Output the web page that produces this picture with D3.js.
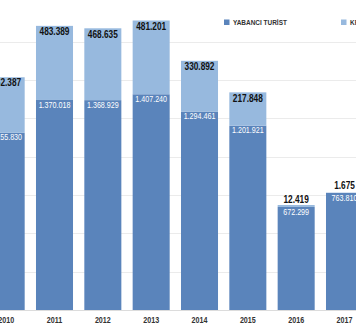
<!DOCTYPE html>
<html>
<head>
<meta charset="utf-8">
<script src="https://cdn.jsdelivr.net/npm/d3@7"></script>
<style>
  html, body { margin: 0; padding: 0; background: #fff; overflow: hidden; }
  svg { display: block; font-family: "Liberation Sans", Arial, sans-serif; }
</style>
</head>
<body>
<svg id="chart" width="356" height="333"></svg>
<script>
// Yearly visitor counts: foreign tourists and cruise passengers
const years = ["2010", "2011", "2012", "2013", "2014", "2015", "2016", "2017"];
const foreignTourists = [1155830, 1370018, 1368929, 1407240, 1294461, 1201921, 672299, 763810];
const cruisePassengers = [362387, 483389, 468635, 481201, 330892, 217848, 12419, 1675];
const seriesNames = ["YABANCI TURİST", "KRUVAZİYER YOLCUSU"];
const gridTicks = [0, 250000, 500000, 750000, 1000000, 1250000, 1500000, 1750000];

const colors = ["#5a84bb", "#97b9de"];
const squeeze = 0.83; // narrow text rendering

const svg = d3.select("#chart");
const fmt = v => d3.format(",")(v).replace(/,/g, ".");

const x = d3.scaleBand()
  .domain(years)
  .range([-18, 368.67])
  .paddingInner(0.234)
  .paddingOuter(0.117);

const y = d3.scaleLinear()
  .domain([0, 2000000])
  .range([310, 3.4]);

// horizontal grid
svg.append("g")
  .selectAll("line")
  .data(gridTicks)
  .join("line")
  .attr("x1", 0).attr("x2", 356)
  .attr("y1", d => Math.round(y(d)) + 0.5)
  .attr("y2", d => Math.round(y(d)) + 0.5)
  .attr("stroke", d => d === 0 ? "#dcdcdc" : "#ebebeb")
  .attr("stroke-width", 1);

const rows = years.map((yr, i) => ({
  year: yr,
  a: foreignTourists[i],
  b: cruisePassengers[i]
}));

const bars = svg.append("g");

// foreign tourists (bottom segment)
bars.selectAll("rect.a")
  .data(rows)
  .join("rect")
  .attr("class", "a")
  .attr("x", d => x(d.year))
  .attr("width", x.bandwidth())
  .attr("y", d => y(d.a))
  .attr("height", d => y(0) - y(d.a))
  .attr("fill", colors[0]);

// cruise passengers (top segment)
bars.selectAll("rect.b")
  .data(rows)
  .join("rect")
  .attr("class", "b")
  .attr("x", d => x(d.year))
  .attr("width", x.bandwidth())
  .attr("y", d => y(d.a + d.b))
  .attr("height", d => y(d.a) - y(d.a + d.b))
  .attr("fill", colors[1]);

function squeezedText(sel) {
  return sel.attr("transform", d => `translate(${d.tx},${d.ty}) scale(${squeeze},1)`);
}

const cx = d => x(d.year) + x.bandwidth() / 2;

// value labels, bottom segment
const labelsA = svg.append("g").selectAll("text")
  .data(rows.map(d => ({ ...d, tx: cx(d), ty: y(d.a) + 7.6 })))
  .join("text")
  .attr("text-anchor", "middle")
  .attr("font-size", 8.6)
  .attr("fill", "#fff")
  .text(d => fmt(d.a));
squeezedText(labelsA);

// value labels, top segment
const labelsB = svg.append("g").selectAll("text")
  .data(rows.map(d => ({ ...d, tx: cx(d), ty: Math.min(y(d.a + d.b) + 9.2, y(d.a) - 3.5) })))
  .join("text")
  .attr("text-anchor", "middle")
  .attr("font-size", 10)
  .attr("font-weight", "bold")
  .attr("fill", "#111")
  .text(d => fmt(d.b));
squeezedText(labelsB);

// category axis labels
const yearLabels = svg.append("g").selectAll("text")
  .data(rows.map(d => ({ ...d, tx: cx(d), ty: 322.5 })))
  .join("text")
  .attr("text-anchor", "middle")
  .attr("font-size", 8.6)
  .attr("font-weight", "bold")
  .attr("fill", "#333")
  .text(d => d.year);
squeezedText(yearLabels);

// legend
const legendX = [224, 341];
const legend = svg.append("g");
seriesNames.forEach((name, i) => {
  legend.append("rect")
    .attr("x", legendX[i]).attr("y", 19.5)
    .attr("width", 5.5).attr("height", 5.5)
    .attr("fill", colors[i]);
  legend.append("text")
    .attr("transform", `translate(${legendX[i] + 9},25) scale(${squeeze + 0.02},1)`)
    .attr("font-size", 7.6)
    .attr("font-weight", "bold")
    .attr("fill", "#333")
    .text(name);
});
</script>
</body>
</html>
